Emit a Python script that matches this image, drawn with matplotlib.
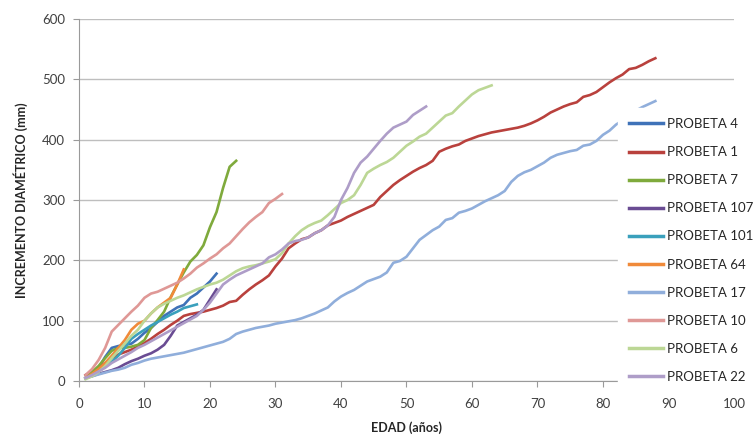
import matplotlib
matplotlib.use("Agg")
from matplotlib import pyplot as plt

plt.rcParams['font.family'] = ['Lato', 'DejaVu Sans']

# age (years) and diametric increment (mm) per specimen
age_4 = list(range(1, 22))
p4 = [5, 12, 22, 40, 55, 58, 60, 62, 70, 80, 88, 98, 108, 115, 122, 126, 138, 145, 155, 165, 178]

age_1 = list(range(1, 89))
p1 = [10, 15, 22, 30, 38, 44, 48, 52, 57, 63, 70, 78, 85, 93, 100, 108, 111, 113, 115, 118,
      121, 125, 131, 133, 143, 152, 160, 167, 175, 190, 203, 220, 228, 235, 238, 245, 250, 258, 262, 266,
      272, 277, 282, 287, 292, 305, 315, 325, 333, 340, 347, 353, 358, 365, 380, 385, 389, 392, 398, 402,
      406, 409, 412, 414, 416, 418, 420, 423, 427, 432, 438, 445, 450, 455, 459, 462, 471, 474, 479, 487,
      495, 502, 508, 517, 519, 524, 530, 535]

age_7 = list(range(1, 25))
p7 = [5, 15, 25, 38, 50, 55, 55, 57, 60, 68, 88, 101, 115, 139, 160, 180, 198, 209, 225, 255,
      280, 320, 355, 365]

age_107 = list(range(1, 22))
p107 = [5, 8, 12, 15, 18, 22, 28, 33, 37, 42, 46, 52, 60, 75, 92, 98, 104, 110, 118, 135, 152]

age_101 = list(range(1, 19))
p101 = [5, 10, 16, 24, 32, 42, 55, 70, 78, 85, 92, 98, 104, 110, 115, 121, 124, 127]

age_64 = list(range(1, 17))
p64 = [5, 12, 20, 30, 42, 55, 68, 85, 95, 100, 112, 122, 130, 138, 160, 185]

age_17 = list(range(1, 89))
p17 = [5, 8, 11, 14, 17, 19, 22, 27, 30, 34, 37, 39, 41, 43, 45, 47, 50, 53, 56, 59,
       62, 65, 70, 78, 82, 85, 88, 90, 92, 95, 97, 99, 101, 104, 108, 112, 117, 122, 132, 140,
       146, 151, 158, 165, 169, 173, 180, 196, 199, 206, 220, 234, 242, 250, 256, 267, 270, 279, 282, 286,
       292, 298, 303, 308, 315, 330, 340, 346, 350, 356, 362, 370, 375, 378, 381, 383, 390, 392, 398, 408,
       415, 425, 432, 440, 448, 454, 459, 464]

age_10 = list(range(1, 32))
p10 = [10, 20, 35, 55, 82, 93, 104, 115, 125, 138, 145, 148, 153, 158, 163, 170, 178, 188, 195, 203,
       210, 220, 228, 240, 252, 263, 272, 280, 295, 302, 310]

age_6 = list(range(1, 64))
p6 = [3, 8, 15, 25, 38, 50, 62, 75, 85, 100, 112, 122, 128, 133, 138, 142, 147, 152, 156, 160,
      163, 168, 175, 182, 187, 190, 192, 195, 198, 202, 212, 228, 240, 250, 257, 262, 266, 275, 285, 295,
      300, 308, 325, 345, 352, 358, 363, 370, 380, 390, 397, 405, 410, 420, 430, 440, 444, 455, 465, 475,
      482, 486, 490]

age_22 = list(range(1, 54))
p22 = [5, 10, 16, 22, 30, 36, 42, 48, 55, 60, 66, 72, 78, 84, 90, 96, 102, 108, 118, 130,
       145, 160, 168, 175, 180, 185, 190, 195, 205, 210, 218, 228, 232, 234, 238, 245, 250, 258, 272, 300,
       320, 345, 362, 372, 385, 398, 410, 420, 425, 430, 441, 448, 455]

series = [
    ("PROBETA 4", age_4, p4, "#3F72B8"),
    ("PROBETA 1", age_1, p1, "#B9413D"),
    ("PROBETA 7", age_7, p7, "#7FAA3C"),
    ("PROBETA 107", age_107, p107, "#6A4C93"),
    ("PROBETA 101", age_101, p101, "#3AA0BC"),
    ("PROBETA 64", age_64, p64, "#F08A3A"),
    ("PROBETA 17", age_17, p17, "#90AEDB"),
    ("PROBETA 10", age_10, p10, "#DF9896"),
    ("PROBETA 6", age_6, p6, "#BCD795"),
    ("PROBETA 22", age_22, p22, "#AE9DC8"),
]

fig = plt.figure(figsize=(7.55, 4.38), dpi=100)
ax = fig.add_axes([0.1046, 0.130, 0.8675, 0.8266])

for name, x, y, c in series:
    ax.plot(x, y, color=c, lw=1.9, label=name, solid_joinstyle='round')

ax.set_xlim(0, 100)
ax.set_ylim(0, 600)
ax.set_xticks(range(0, 101, 10))
ax.set_yticks(range(0, 601, 100))
ax.yaxis.grid(True, color="#BEBEBE", lw=1.0)
ax.set_axisbelow(True)
for s in ("top", "right"):
    ax.spines[s].set_visible(False)
for s in ("left", "bottom"):
    ax.spines[s].set_color("#9A9A9A")
ax.tick_params(axis="both", colors="#9A9A9A", labelcolor="#404040", labelsize=9.5, length=4)
ax.tick_params(axis="y", pad=6)
ax.tick_params(axis="x", pad=8)

ax.set_xlabel("EDAD (años)", fontsize=9, fontweight="bold", color="#262626", labelpad=8)
ax.set_ylabel("INCREMENTO DIAMÉTRICO (mm)", fontsize=9, fontweight="bold", color="#262626", labelpad=10)

leg = ax.legend(loc="center left", bbox_to_anchor=(618 / 755, 0.428),
                bbox_transform=fig.transFigure, frameon=True, fancybox=False,
                edgecolor="white", facecolor="white", framealpha=1.0,
                fontsize=9.5, labelspacing=1.22, handlelength=2.6, handletextpad=0.3,
                borderpad=0.8, borderaxespad=0)
for line in leg.get_lines():
    line.set_linewidth(2.5)
for t in leg.get_texts():
    t.set_color("#262626")
leg.set_zorder(5)

fig.savefig("out.png", dpi=100)
